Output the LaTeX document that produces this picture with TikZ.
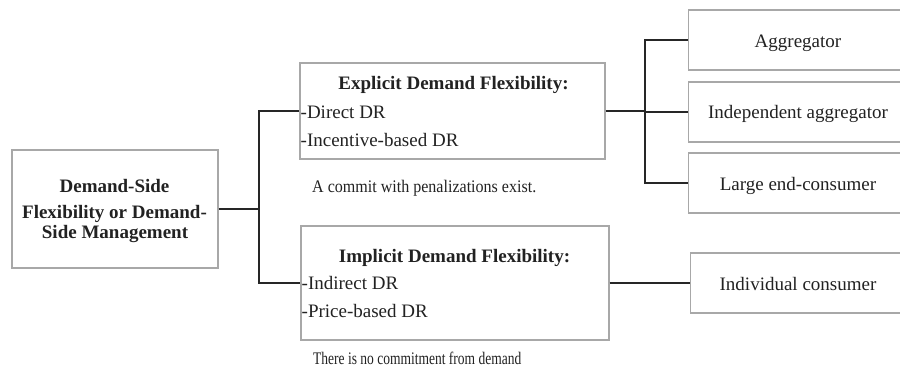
\documentclass[tikz,border=0pt]{standalone}
\usepackage{fontspec}
\setmainfont{Liberation Serif}
\definecolor{boxgray}{HTML}{A8A8A8}
\definecolor{linegray}{HTML}{262626}
\definecolor{txtc}{HTML}{222222}
\tikzset{
  box/.style={draw=boxgray, line width=1.3pt, rectangle, inner sep=0pt, fill=white},
  txt/.style={text=txtc, inner sep=0pt, font=\fontsize{19}{22}\selectfont},
  btxt/.style={text=txtc, inner sep=0pt, font=\fontsize{19}{22}\selectfont\bfseries},
  captxt/.style={text=txtc, inner sep=0pt, font=\fontsize{17.7}{20}\selectfont},
  conn/.style={draw=linegray, line width=1.8pt}
}
\begin{document}
\begin{tikzpicture}[x=1pt,y=-1pt]
\useasboundingbox (0,0) rectangle (900,368);
\clip (0,0) rectangle (900,368);
% boxes
\node[box, minimum width=206pt, minimum height=118pt] (L) at (115,209) {};
\node[box, minimum width=305pt, minimum height=96pt] (ex) at (452.5,111) {};
\node[box, minimum width=308pt, minimum height=114pt] (im) at (455,283) {};
\node[box, minimum width=230pt, minimum height=60pt, anchor=west] (agg) at (688,40) {};
\node[box, minimum width=230pt, minimum height=60pt, anchor=west] (ia) at (688,112) {};
\node[box, minimum width=230pt, minimum height=60pt, anchor=west] (lec) at (688,183) {};
\node[box, minimum width=230pt, minimum height=60pt, anchor=west] (ic) at (690,283) {};
% left box text
\node[btxt, anchor=base] (L1) at (114.5,192) {Demand-Side};
\node[btxt, anchor=base] (L2) at (114.5,218) {Flexibility or Demand-};
\node[btxt, anchor=base] (L3) at (115,238) {Side Management};
% explicit
\node[btxt, anchor=base] (ex1) at (453.5,89) {Explicit Demand Flexibility:};
\node[txt, anchor=base west] (ex2) at (300.5,118) {-Direct DR};
\node[txt, anchor=base west] (ex3) at (300.5,146.5) {-Incentive-based DR};
\node[captxt, anchor=base west] (exc) at (312,192) {\scalebox{0.906}[1]{A commit with penalizations exist.}};
% implicit
\node[btxt, anchor=base] (im1) at (454.5,262) {Implicit Demand Flexibility:};
\node[txt, anchor=base west] (im2) at (301.5,289) {-Indirect DR};
\node[txt, anchor=base west] (im3) at (301.5,317) {-Price-based DR};
\node[captxt, anchor=base west] (imc) at (313,364) {\scalebox{0.763}[1]{There is no commitment from demand}};
% right texts
\node[txt, anchor=base] (aggt) at (798,47) {Aggregator};
\node[txt, anchor=base] (iat) at (798,118.5) {Independent aggregator};
\node[txt, anchor=base] (lect) at (798,190) {Large end-consumer};
\node[txt, anchor=base] (ict) at (798,290) {Individual consumer};
% connectors
\coordinate (j1) at (259,209);
\coordinate (j2) at (645,111);
\draw[conn] (L.east) -- (j1);
\draw[conn] (j1) |- (ex.west);
\draw[conn] (j1) |- (im.west);
\draw[conn] (ex.east) -- (j2);
\draw[conn] (j2) |- (agg.west);
\draw[conn] (j2) |- (ia.west);
\draw[conn] (j2) |- (lec.west);
\draw[conn] (im.east) -- (ic.west);
\end{tikzpicture}
\end{document}
